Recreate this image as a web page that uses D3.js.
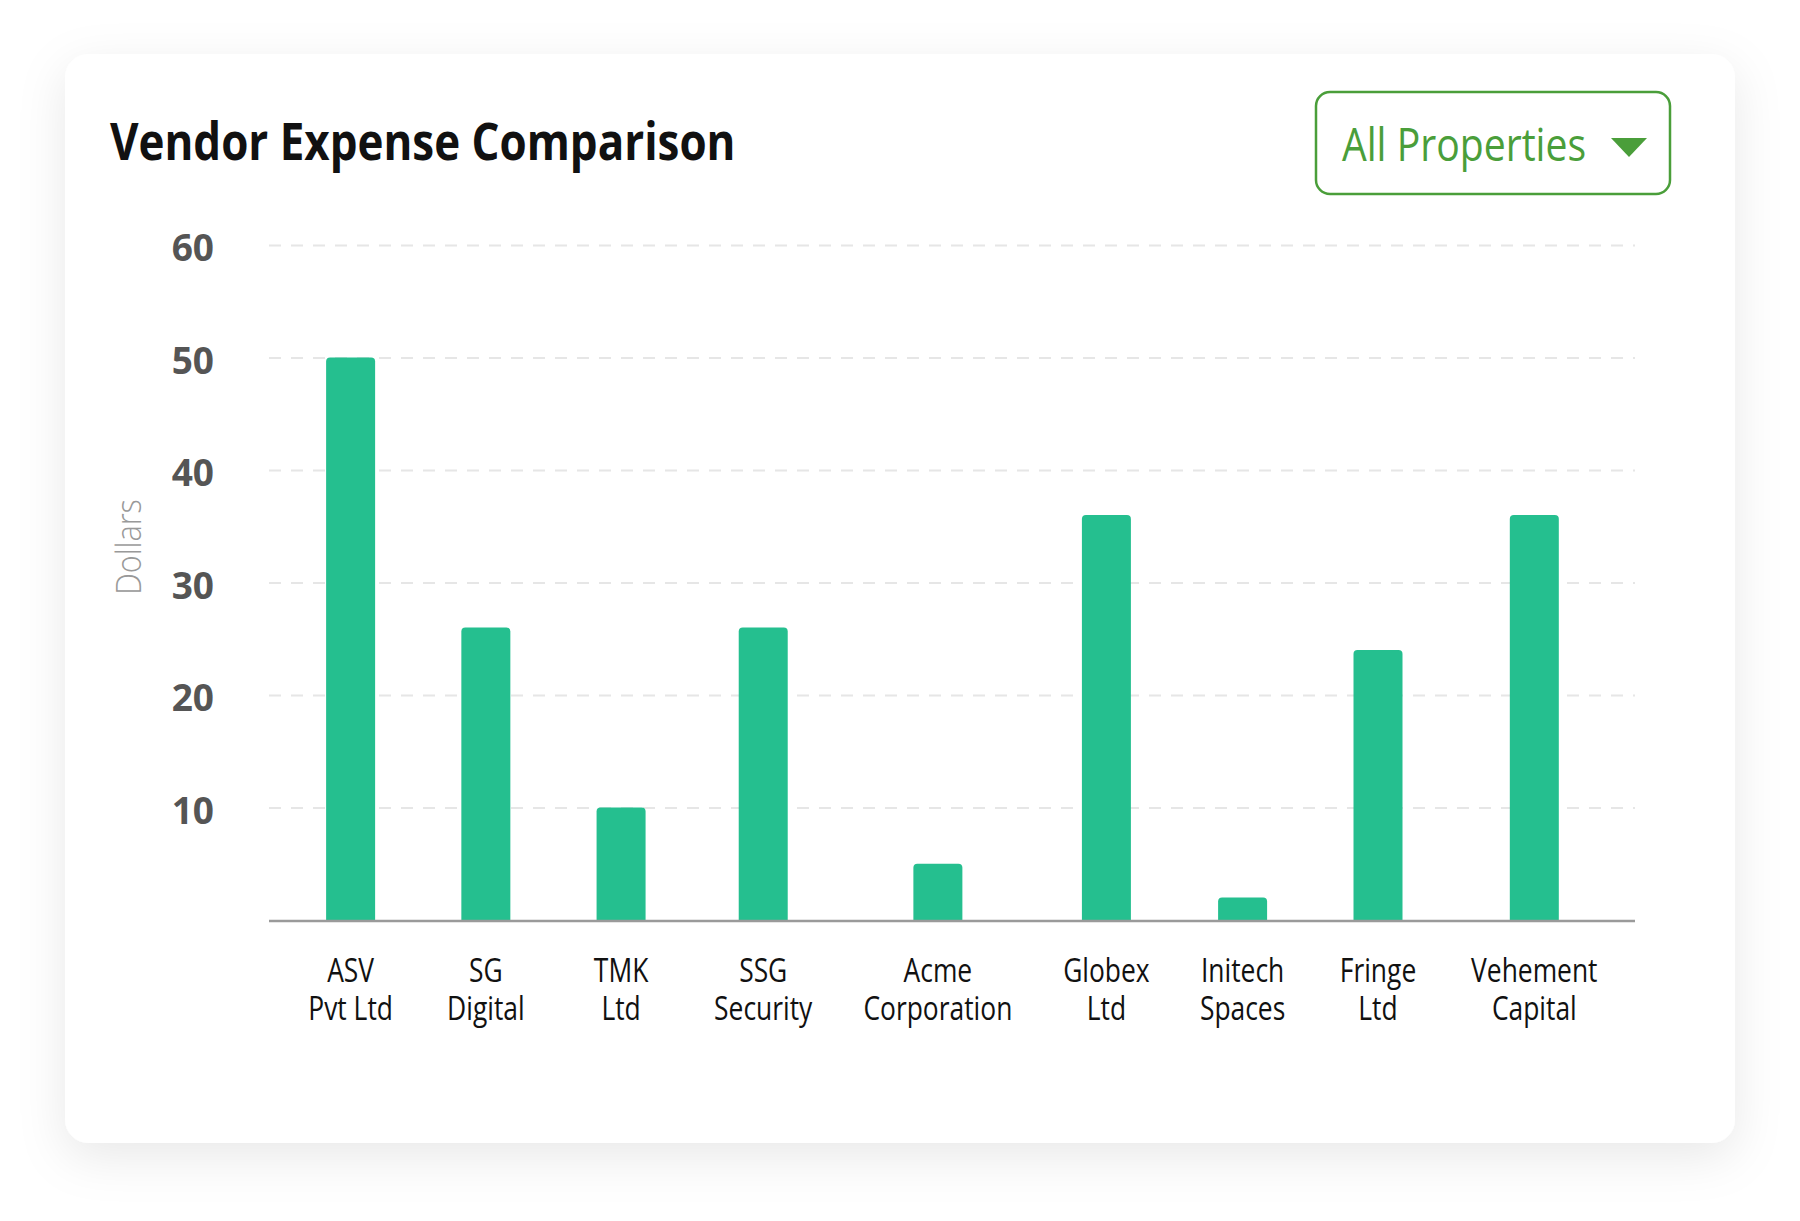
<!DOCTYPE html>
<html><head><meta charset="utf-8">
<script src="https://cdn.jsdelivr.net/npm/d3@7"></script>
<style>body{margin:0;background:#fff}svg{display:block}text{font-family:"Open Sans",sans-serif}</style>
</head><body>
<svg id="c" width="1800" height="1221"></svg>
<script>
const title = "Vendor Expense Comparison";
const dropdownLabel = "All Properties";
const yAxisLabel = "Dollars";
const categories = ["ASV\nPvt Ltd","SG\nDigital","TMK\nLtd","SSG\nSecurity","Acme\nCorporation","Globex\nLtd","Initech\nSpaces","Fringe\nLtd","Vehement\nCapital"];
const values = [50, 26, 10, 26, 5, 36, 2, 24, 36];
const yTicks = [10, 20, 30, 40, 50, 60];

const svg = d3.select("#c");
const defs = svg.append("defs");
const f = defs.append("filter").attr("id","sh").attr("x","-10%").attr("y","-10%").attr("width","120%").attr("height","125%");
f.append("feDropShadow").attr("dx",0).attr("dy",14).attr("stdDeviation",24).attr("flood-color","#000").attr("flood-opacity",0.09);

svg.append("rect").attr("x",65).attr("y",54).attr("width",1670).attr("height",1089).attr("rx",24)
  .attr("fill","#fff").attr("filter","url(#sh)");

// title
svg.append("text").attr("transform","translate(110,160) scale(0.845,1)")
  .attr("font-size",52).attr("font-weight",700).attr("fill","#111").text(title);

// dropdown
const green = "#4a9e3a";
svg.append("rect").attr("x",1316).attr("y",92).attr("width",354).attr("height",102).attr("rx",14)
  .attr("fill","#fff").attr("stroke",green).attr("stroke-width",2.5);
svg.append("text").attr("transform","translate(1342,161) scale(0.87,1)")
  .attr("font-size",45).attr("fill",green).text(dropdownLabel);
svg.append("path").attr("d",d3.line()([[1611,138],[1647,138],[1629,157]])+"Z").attr("fill",green);

// scales
const x0 = 269, x1 = 1635;
const y = d3.scaleLinear().domain([0,60]).range([920,245]);

// y axis with gridlines
const yAxis = d3.axisLeft(y).tickValues(yTicks).tickSize(-(x1-x0)).tickPadding(55);
const ga = svg.append("g").attr("transform",`translate(${x0},0)`).call(yAxis);
ga.select(".domain").remove();
ga.selectAll(".tick line").attr("stroke","#e6e6e6").attr("stroke-width",2).attr("stroke-dasharray","12,10");
ga.selectAll(".tick text").attr("font-size",37).attr("font-weight",700).attr("fill","#555")
  .attr("font-family","'Open Sans',sans-serif").attr("dy","0.42em");

// y label
svg.append("text").attr("transform","translate(141,547) rotate(-90) scale(0.9,1)")
  .attr("text-anchor","middle").attr("font-size",34).attr("font-weight",300).attr("fill","#999").text(yAxisLabel);

// category labels (measure to lay out slots)
const sx = 0.8;
const lab = svg.append("g").selectAll("g").data(categories).join("g");
const lt = lab.append("text").attr("text-anchor","middle").attr("font-size",33).attr("fill","#111");
lt.selectAll("tspan").data(d=>d.split("\n")).join("tspan").attr("x",0).attr("y",(d,i)=>i*38).text(d=>d);
const widths = [];
lt.each(function(){ widths.push(this.getBBox().width*sx); });
const minW = 85, gap = 48;
const slots = widths.map(w=>Math.max(w,minW)+gap);
const cum = d3.cumsum(slots);
const total = cum[cum.length-1];
const px = d3.scaleLinear().domain([0,total]).range([x0+14, x1-12]);
const centers = slots.map((s,i)=>px(cum[i]-s/2));
lab.attr("transform",(d,i)=>`translate(${centers[i]},982) scale(${sx},1)`);

// bars
const bw = 49, r = 4;
svg.append("g").selectAll("path").data(values).join("path")
  .attr("fill","#25bf8f")
  .attr("d",(v,i)=>{
    const l = centers[i]-bw/2, rr = l+bw, t = y(v), b = y(0);
    return `M${l},${b}V${t+r}Q${l},${t} ${l+r},${t}H${rr-r}Q${rr},${t} ${rr},${t+r}V${b}Z`;
  });

// x axis line
svg.append("line").attr("x1",x0).attr("x2",x1).attr("y1",y(0)+1).attr("y2",y(0)+1)
  .attr("stroke","#9a9a9a").attr("stroke-width",2.5);
</script>
</body></html>
